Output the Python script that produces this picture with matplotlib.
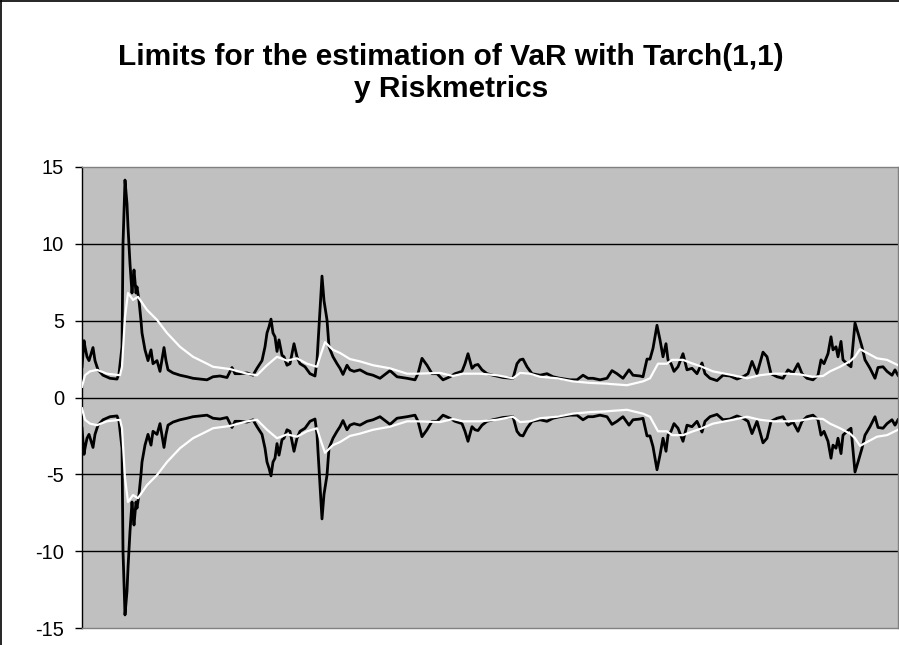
import matplotlib
matplotlib.use("Agg")
import matplotlib.pyplot as plt
from matplotlib.lines import Line2D

# Observation index and upper VaR limit, Tarch(1,1)
tarch_obs = [0, 2, 3, 5, 7, 11, 13, 16, 21, 28, 35, 37, 40, 41, 43, 45, 46, 48, 50, 51,
             52, 54, 55, 57, 59, 60, 63, 66, 69, 71, 75, 78, 82, 84, 86, 91, 98, 105, 111, 118,
             125, 131, 138, 145, 150, 153, 158, 165, 171, 175, 180, 183, 185, 187, 189, 191, 193, 195, 197, 200,
             202, 205, 208, 212, 215, 218, 223, 228, 233, 235, 238, 240, 242, 245, 247, 251, 255, 258, 261, 265,
             268, 272, 278, 285, 291, 298, 308, 315, 325, 333, 336, 340, 345, 350, 355, 361, 368, 373, 380, 383,
             386, 390, 393, 396, 400, 405, 411, 421, 431, 435, 438, 441, 445, 450, 458, 465, 471, 478, 488, 495,
             501, 506, 511, 518, 525, 530, 535, 541, 547, 551, 558, 561, 565, 568, 571, 573, 575, 578, 581, 584,
             586, 589, 592, 596, 601, 605, 610, 615, 620, 623, 628, 635, 641, 648, 655, 661, 666, 670, 675, 681,
             685, 689, 695, 701, 706, 711, 716, 720, 725, 731, 736, 739, 742, 746, 749, 751, 754, 756, 759, 761,
             765, 769, 773, 776, 780, 783, 788, 793, 796, 801, 805, 810, 813, 816]
tarch_upper = [2.0, 3.7, 3.3, 2.65, 2.4, 3.25, 2.4, 1.8, 1.45, 1.25, 1.2, 1.55, 3.3, 10.0, 14.15, 12.6, 11.1, 8.7, 6.8, 7.6,
               8.3, 6.8, 7.2, 6.3, 5.0, 4.2, 3.1, 2.4, 3.1, 2.2, 2.4, 1.7, 3.25, 2.4, 1.8, 1.6, 1.45, 1.35, 1.25, 1.2,
               1.15, 1.35, 1.4, 1.3, 1.95, 1.55, 1.55, 1.6, 1.45, 1.9, 2.4, 3.3, 4.2, 4.6, 5.1, 4.2, 3.95, 3.0, 3.75, 2.75,
               2.65, 2.1, 2.2, 3.5, 2.65, 2.2, 2.0, 1.55, 1.4, 2.4, 5.7, 7.9, 6.3, 5.05, 3.3, 2.65, 2.2, 1.9, 1.5, 2.1,
               1.8, 1.7, 1.8, 1.55, 1.45, 1.25, 1.75, 1.35, 1.25, 1.15, 1.55, 2.55, 2.1, 1.55, 1.55, 1.15, 1.35, 1.55, 1.7, 2.2,
               2.85, 1.9, 2.1, 2.15, 1.8, 1.55, 1.45, 1.3, 1.25, 2.2, 2.45, 2.5, 2.0, 1.55, 1.45, 1.55, 1.35, 1.25, 1.15, 1.15,
               1.45, 1.25, 1.25, 1.15, 1.25, 1.75, 1.55, 1.25, 1.8, 1.45, 1.4, 1.35, 2.5, 2.5, 3.2, 3.95, 4.7, 3.75, 2.65, 3.5,
               2.45, 2.2, 1.7, 2.0, 2.85, 1.8, 1.9, 1.55, 2.25, 1.55, 1.25, 1.1, 1.45, 1.4, 1.2, 1.35, 1.55, 2.35, 1.55, 2.95,
               2.65, 1.55, 1.35, 1.25, 1.8, 1.6, 2.2, 1.55, 1.25, 1.15, 1.45, 2.45, 2.2, 2.85, 3.95, 3.1, 3.3, 2.65, 3.65, 2.45,
               2.2, 2.0, 4.85, 4.2, 3.3, 2.45, 1.9, 1.25, 1.95, 2.0, 1.7, 1.45, 1.8, 1.45]

# Observation index and upper VaR limit, Riskmetrics
rm_obs = [0, 3, 8, 15, 25, 38, 40, 43, 46, 51, 56, 65, 75, 85, 98, 111, 125, 131, 148, 165,
          175, 185, 195, 205, 215, 225, 235, 238, 243, 251, 258, 268, 278, 291, 308, 325, 335, 358, 371, 381,
          398, 415, 431, 438, 448, 458, 475, 491, 508, 525, 528, 545, 561, 568, 576, 585, 590, 601, 611, 618,
          631, 651, 665, 678, 691, 705, 718, 731, 741, 748, 758, 768, 773, 778, 785, 795, 805, 816]
rm_upper = [0.7, 1.45, 1.7, 1.8, 1.55, 1.45, 2.0, 5.25, 6.8, 6.35, 6.55, 5.7, 5.05, 4.2, 3.3, 2.65, 2.2, 2.0, 1.85, 1.55,
            1.45, 2.1, 2.65, 2.4, 2.55, 2.2, 2.0, 2.65, 3.6, 3.1, 2.9, 2.5, 2.35, 2.1, 1.9, 1.55, 1.55, 1.6, 1.4, 1.55,
            1.55, 1.45, 1.25, 1.6, 1.55, 1.35, 1.25, 1.05, 0.95, 0.9, 0.88, 0.8, 1.05, 1.25, 2.2, 2.2, 2.45, 2.45, 2.2, 2.05,
            1.7, 1.45, 1.25, 1.45, 1.55, 1.55, 1.5, 1.35, 1.4, 1.7, 2.0, 2.35, 2.65, 3.15, 2.9, 2.55, 2.45, 2.1]

y_ticks = [-15, -10, -5, 0, 5, 10, 15]
title = "Limits for the estimation of VaR with Tarch(1,1)\ny Riskmetrics"

plt.rcParams['font.family'] = ['Liberation Sans', 'DejaVu Sans']

W, H = 899, 645
fig = plt.figure(figsize=(W / 100, H / 100), dpi=100)
ax = fig.add_axes([82 / W, 1 - 628 / H, (898 - 82) / W, (628 - 167) / H])
ax.set_facecolor('#C0C0C0')

for v in y_ticks[1:-1]:
    ax.axhline(v, color='black', lw=1.0, zorder=1)

ax.plot(rm_obs, [-v for v in rm_upper], color='white', lw=1.6, zorder=3)
ax.plot(rm_obs, rm_upper, color='white', lw=1.6, zorder=3)
ax.plot(tarch_obs, tarch_upper, color='black', lw=2.0, zorder=2)
ax.plot(tarch_obs, [-v for v in tarch_upper], color='black', lw=2.0, zorder=2)

ax.set_xlim(0, 816)
ax.set_ylim(-15, 15)
ax.set_yticks(y_ticks)
ax.set_yticklabels([str(t) for t in y_ticks], fontsize=14.5)
ax.set_xticks([])
ax.tick_params(axis='y', direction='out', length=5, width=1, pad=8, colors='black')
for s in ['top', 'right', 'bottom']:
    ax.spines[s].set_color('#808080')
    ax.spines[s].set_linewidth(1.0)
ax.spines['left'].set_color('black')
ax.spines['left'].set_linewidth(1.0)

fig.text(451 / W, 1 - 73 / H, title, ha='center', va='center', fontsize=21.5,
         fontweight='bold', linespacing=1.2)

fig.add_artist(Line2D([1 / W, 1 / W], [0, 1 - 1 / H], color='black', lw=1.2, transform=fig.transFigure))
fig.add_artist(Line2D([1 / W, 1], [1 - 1 / H, 1 - 1 / H], color='black', lw=1.2, transform=fig.transFigure))

fig.savefig('out.png', dpi=100)
